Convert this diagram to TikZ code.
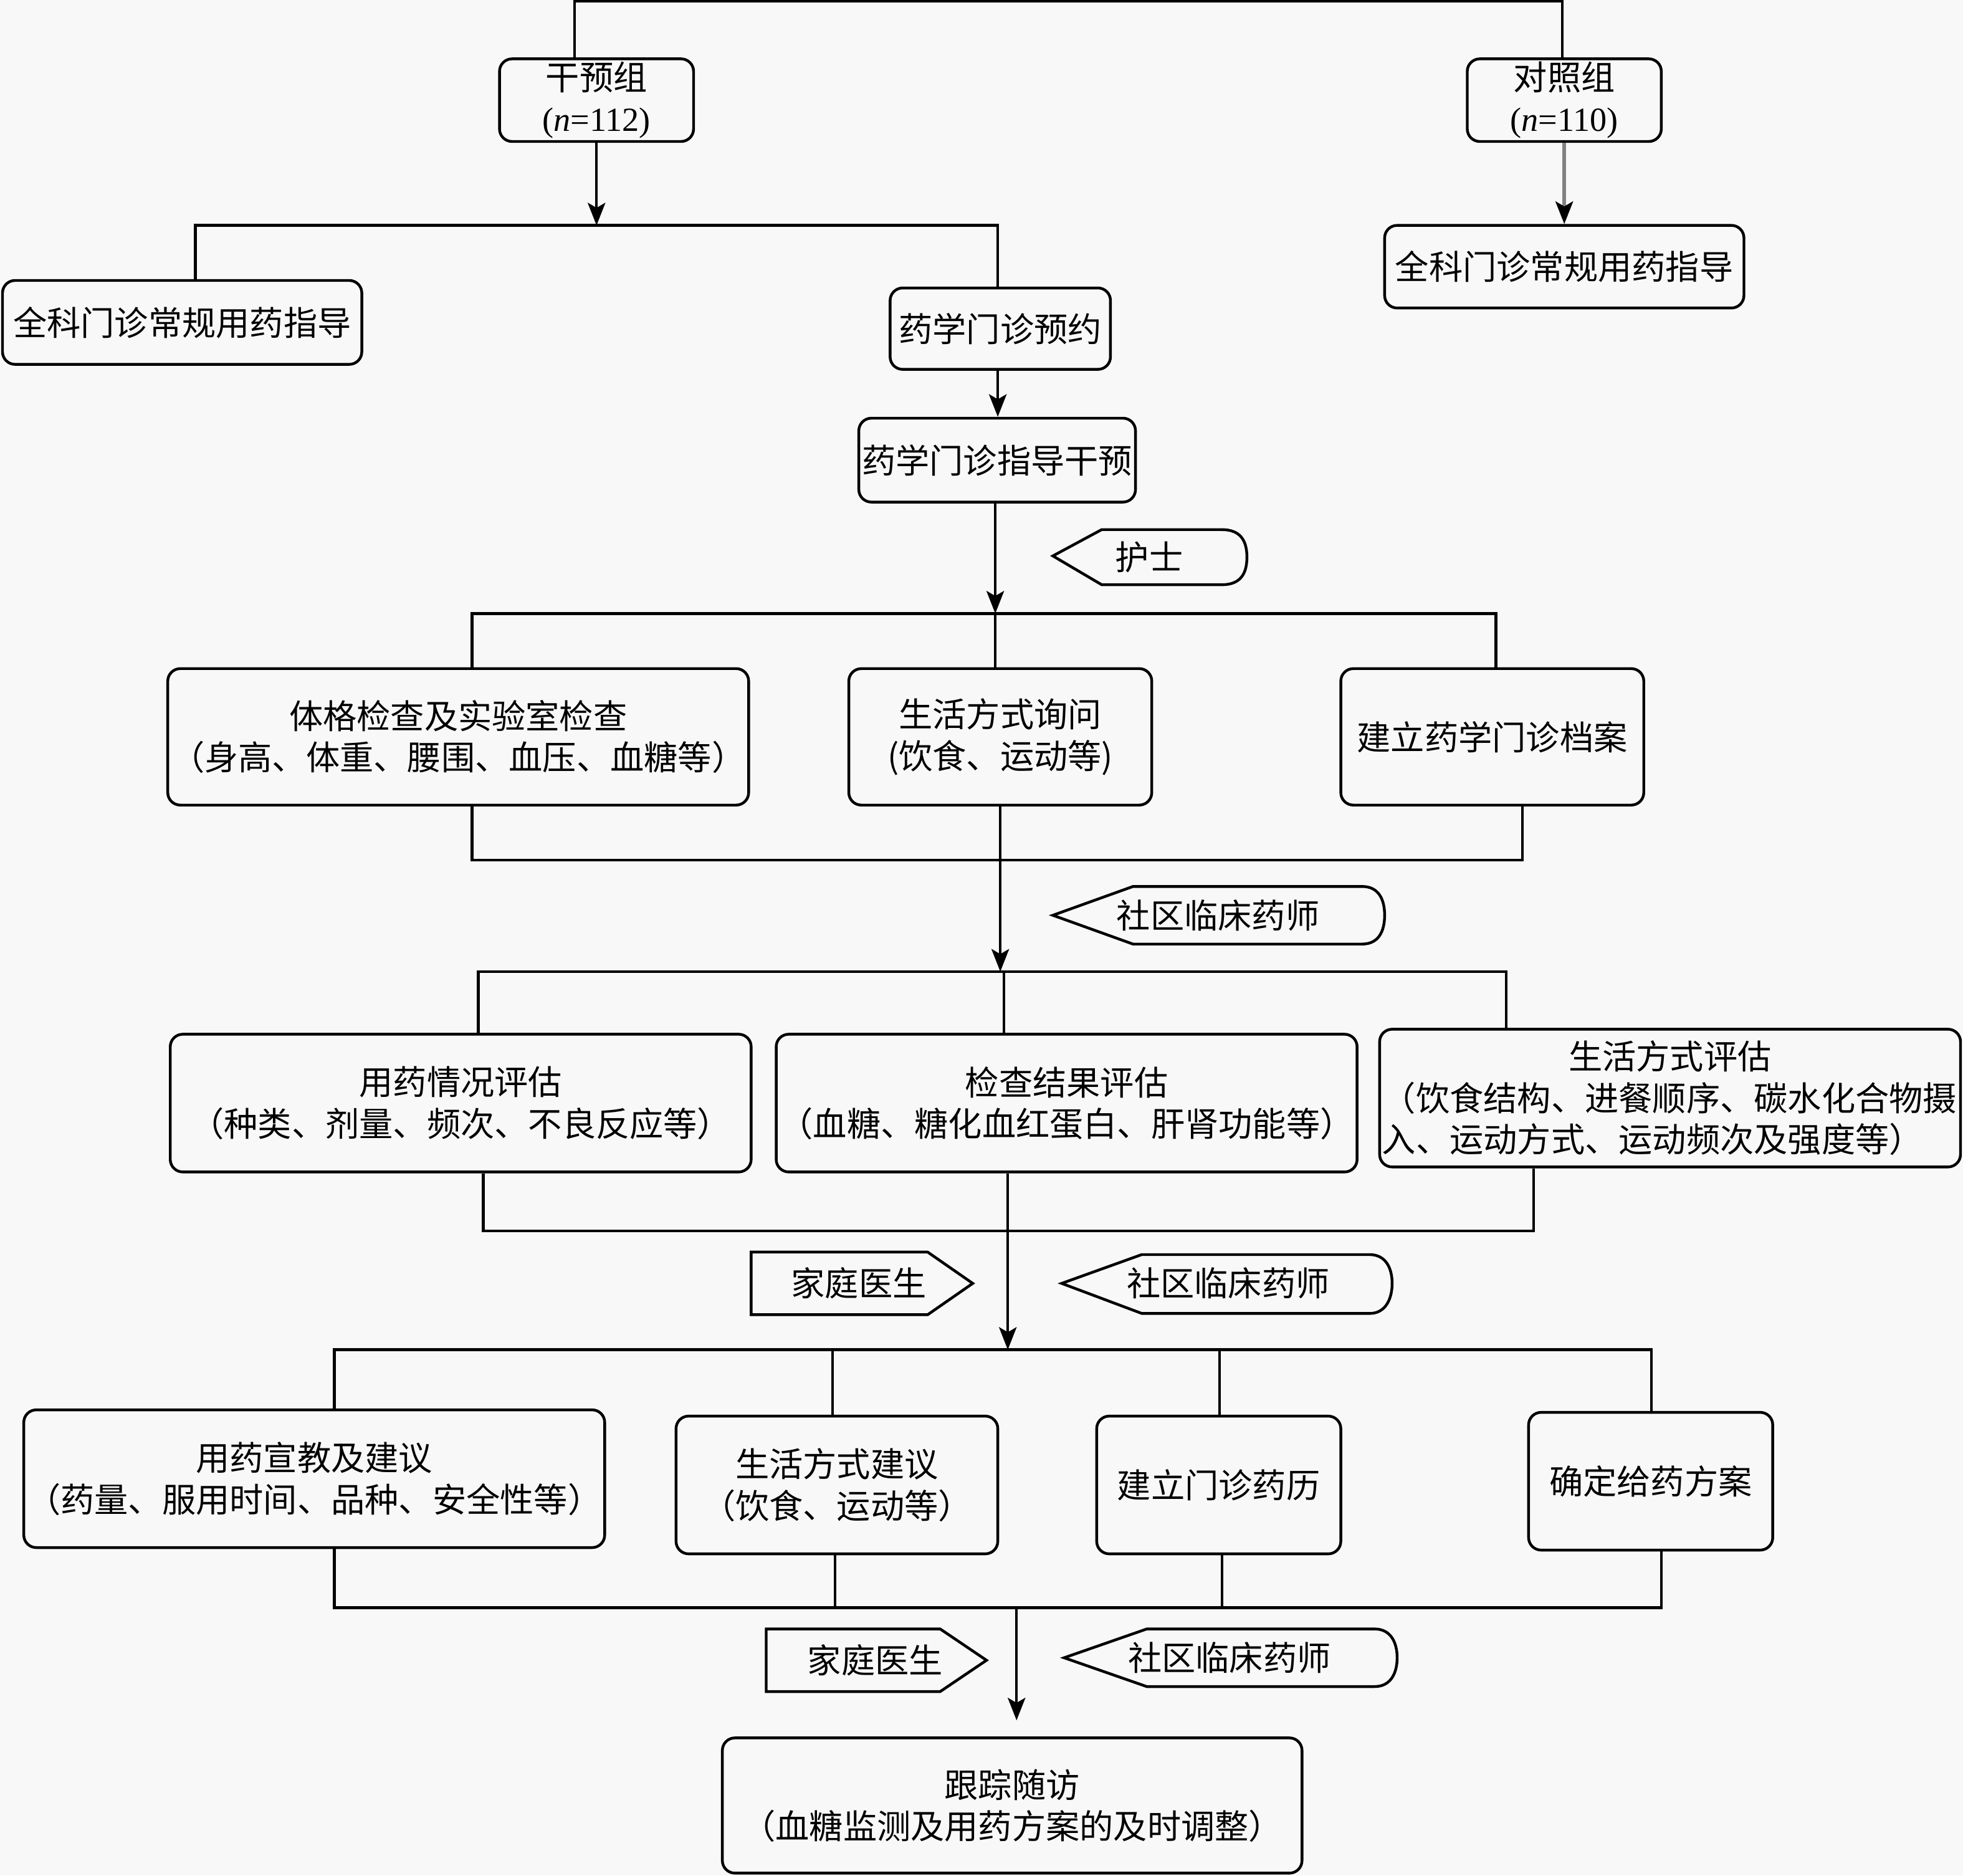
\documentclass[tikz,border=0pt]{standalone}
\usepackage{fontspec}
\setmainfont{Liberation Serif}
\newfontfamily\cjk{Noto Sans CJK SC}
\usetikzlibrary{arrows.meta}
\definecolor{bg}{RGB}{248,248,248}
\definecolor{shaftgray}{RGB}{130,130,130}
\begin{document}
\begin{tikzpicture}[x=1pt,y=-1pt,
  txt/.style={font=\cjk\fontsize{27}{33}\selectfont},
  box/.style={txt, draw, line width=2.2pt, rounded corners=10pt, inner sep=0pt, align=center},
  ln/.style={line width=2.2pt},
  arr/.style={line width=2.2pt, -{Stealth[length=18pt,width=14pt,inset=4pt]}},
  arrgray/.style={line width=2.8pt, draw=shaftgray, -{Stealth[length=18pt,width=14pt,inset=4pt,color=black]}},
  tag/.style={draw, line width=2.2pt, line join=miter},
  tagtxt/.style={txt, inner sep=0pt}]
\fill[bg] (0,0) rectangle (1568,1498);
\useasboundingbox (0,0) rectangle (1568,1498);

% ---------- boxes ----------
\node[box, minimum width=155pt, minimum height=66pt] (gy) at (476.5,80) {干预组\\{\rmfamily(\textit{n}=112)}};
\node[box, minimum width=155pt, minimum height=66pt] (dz) at (1249.5,80) {对照组\\{\rmfamily(\textit{n}=110)}};
\node[box, minimum width=287pt, minimum height=67pt] (qk1) at (145.5,257.5) {全科门诊常规用药指导};
\node[box, minimum width=287pt, minimum height=66pt] (qk2) at (1249.5,213) {全科门诊常规用药指导};
\node[box, minimum width=176pt, minimum height=65pt] (yy) at (799,262.5) {药学门诊预约};
\node[box, minimum width=221pt, minimum height=67pt] (zd) at (796.5,367.5) {药学门诊指导干预};

\node[box, minimum width=464pt, minimum height=109pt] (tg) at (366,588.5) {体格检查及实验室检查\\（身高、体重、腰围、血压、血糖等）};
\node[box, minimum width=242pt, minimum height=109pt] (sx) at (799,588.5) {生活方式询问\\(饮食、运动等)};
\node[box, minimum width=242pt, minimum height=109pt] (da) at (1192,588.5) {建立药学门诊档案};

\node[box, minimum width=464pt, minimum height=110pt] (yp) at (368,881) {用药情况评估\\（种类、剂量、频次、不良反应等）};
\node[box, minimum width=464pt, minimum height=110pt] (jp) at (852,881) {检查结果评估\\（血糖、糖化血红蛋白、肝肾功能等）};
\node[box, minimum width=464pt, minimum height=110pt, text width=460pt, align=left] (sp) at (1334,877) {\makebox[460pt][c]{生活方式评估}\\（饮食结构、进餐顺序、碳水化合物摄\\入、运动方式、运动频次及强度等）};

\node[box, minimum width=464pt, minimum height=110pt] (xj) at (251,1181) {用药宣教及建议\\（药量、服用时间、品种、安全性等）};
\node[box, minimum width=257pt, minimum height=110pt] (sj) at (668.5,1186) {生活方式建议\\（饮食、运动等）};
\node[box, minimum width=195pt, minimum height=110pt] (ml) at (973.5,1186) {建立门诊药历};
\node[box, minimum width=195pt, minimum height=110pt] (fa) at (1318.5,1183) {确定给药方案};

\node[box, minimum width=463pt, minimum height=108pt] (gz) at (808.5,1442) {跟踪随访\\（血糖监测及用药方案的及时调整）};

% ---------- tags ----------
\draw[tag] (841,444) -- (880,423) -- (976,423) .. controls (991,423) and (996,432) .. (996,445) .. controls (996,458) and (991,467) .. (976,467) -- (880,467) -- cycle;
\node[tagtxt] (t1) at (918,445) {护士};

\draw[tag] (841,731) -- (905,708) -- (1088,708) .. controls (1101,708) and (1106,718) .. (1106,731) .. controls (1106,744) and (1101,754) .. (1088,754) -- (905,754) -- cycle;
\node[tagtxt] (t2) at (973,731) {社区临床药师};

\draw[tag] (600,1000) -- (741,1000) -- (777,1025) -- (741,1050) -- (600,1050) -- cycle;
\node[tagtxt] (t3) at (686,1025) {家庭医生};

\draw[tag] (848,1025) -- (912,1002) -- (1094,1002) .. controls (1107,1002) and (1112,1013) .. (1112,1025) .. controls (1112,1037) and (1107,1049) .. (1094,1049) -- (912,1049) -- cycle;
\node[tagtxt] (t4) at (981,1025) {社区临床药师};

\draw[tag] (612,1301) -- (751,1301) -- (788,1326) -- (751,1351) -- (612,1351) -- cycle;
\node[tagtxt] (t5) at (699,1326) {家庭医生};

\draw[tag] (850,1324) -- (916,1301) -- (1098,1301) .. controls (1111,1301) and (1116,1312) .. (1116,1324) .. controls (1116,1336) and (1111,1347) .. (1098,1347) -- (916,1347) -- cycle;
\node[tagtxt] (t6) at (982,1324) {社区临床药师};

% ---------- connectors ----------
\coordinate (top1) at (459,1);
\coordinate (top2) at (1248,1);
\draw[ln] (top1 |- gy.north) -- (top1) -- (top2) -- (top2 |- dz.north);

\coordinate (s1) at (476.5,180);
\coordinate (s1l) at (156,180);
\coordinate (s1r) at (797,180);
\draw[arr] (gy.south) -- (s1);
\draw[ln] (s1l |- qk1.north) -- (s1l) -- (s1r) -- (s1r |- yy.north);

\draw[arrgray] (dz.south) -- (qk2.north);
\draw[arr] (yy.south -| s1r) -- (s1r |- zd.north);

\coordinate (s2) at (795,490);
\coordinate (s2l) at (377,490);
\coordinate (s2r) at (1195,490);
\draw[arr] (s2 |- zd.south) -- (s2);
\draw[ln] (s2l |- tg.north) -- (s2l) -- (s2r) -- (s2r |- da.north);
\draw[ln] (s2) -- (s2 |- sx.north);

\coordinate (m2l) at (377,687);
\coordinate (m2r) at (1216,687);
\draw[ln] (m2l |- tg.south) -- (m2l) -- (m2r) -- (m2r |- da.south);
\coordinate (s3) at (799,776);
\draw[arr] (sx.south) -- (s3);

\coordinate (s3l) at (382,776);
\coordinate (s3m) at (802,776);
\coordinate (s3r) at (1203,776);
\draw[ln] (s3l |- yp.north) -- (s3l) -- (s3r) -- (s3r |- sp.north);
\draw[ln] (s3m) -- (s3m |- jp.north);

\coordinate (m3l) at (386,983);
\coordinate (m3r) at (1225,983);
\draw[ln] (m3l |- yp.south) -- (m3l) -- (m3r) -- (m3r |- sp.south);
\coordinate (s4) at (805,1078);
\draw[arr] (s4 |- jp.south) -- (s4);

\coordinate (s4l) at (267,1078);
\coordinate (s4a) at (665,1078);
\coordinate (s4b) at (974,1078);
\coordinate (s4r) at (1319,1078);
\draw[ln] (s4l |- xj.north) -- (s4l) -- (s4r) -- (s4r |- fa.north);
\draw[ln] (s4a) -- (s4a |- sj.north);
\draw[ln] (s4b) -- (s4b |- ml.north);

\coordinate (m4l) at (267,1284);
\coordinate (m4a) at (667,1284);
\coordinate (m4b) at (976,1284);
\coordinate (m4r) at (1327,1284);
\draw[ln] (m4l |- xj.south) -- (m4l) -- (m4r) -- (m4r |- fa.south);
\draw[ln] (m4a |- sj.south) -- (m4a);
\draw[ln] (m4b |- ml.south) -- (m4b);
\coordinate (m4m) at (812,1284);
\coordinate (fin) at (812,1374);
\draw[arr] (m4m) -- (fin);
\end{tikzpicture}
\end{document}
